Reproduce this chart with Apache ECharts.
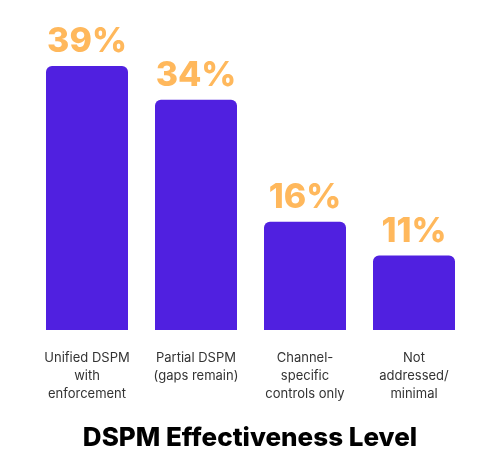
<!DOCTYPE html>
<html>
<head>
<meta charset="utf-8">
<style>
  html, body { margin: 0; padding: 0; background: #fff; }
  #chart { width: 500px; height: 472px; }
</style>
<script src="https://cdn.jsdelivr.net/npm/echarts@6/dist/echarts.min.js"></script>
</head>
<body>
<div id="chart"></div>
<script>
// categories and values
var categories = [
    'Unified DSPM\nwith\nenforcement',
    'Partial DSPM\n(gaps remain)',
    'Channel-\nspecific\ncontrols only',
    'Not\naddressed/\nminimal'
];
var values = [39, 34, 16, 11];
var titleText = 'DSPM Effectiveness Level';

var myChart = echarts.init(document.getElementById('chart'));

option = {
    animation: false,
    title: {
        text: titleText,
        left: 'center',
        top: 420,
        textStyle: {
            fontFamily: 'Inter',
            fontWeight: 800,
            fontSize: 26,
            color: '#000'
        }
    },
    grid: {
        left: 32.5,
        right: 31.5,
        top: 66,
        bottom: 142
    },
    xAxis: {
        type: 'category',
        data: categories,
        axisLine: { show: false },
        axisTick: { show: false },
        axisLabel: {
            interval: 0,
            margin: 19,
            color: '#333',
            fontFamily: 'Inter',
            fontSize: 13,
            lineHeight: 18
        }
    },
    yAxis: {
        type: 'value',
        min: 0,
        max: 39,
        show: false,
        splitLine: { show: false }
    },
    series: [{
        type: 'bar',
        data: values,
        barWidth: 82,
        itemStyle: {
            color: '#5020E0',
            borderRadius: [6, 6, 0, 0]
        },
        label: {
            show: true,
            position: 'top',
            distance: 7,
            formatter: '{c}%',
            color: '#FFB85C',
            fontFamily: 'Inter',
            fontWeight: 800,
            fontSize: 34
        }
    }]
};

myChart.setOption(option);
</script>
</body>
</html>
